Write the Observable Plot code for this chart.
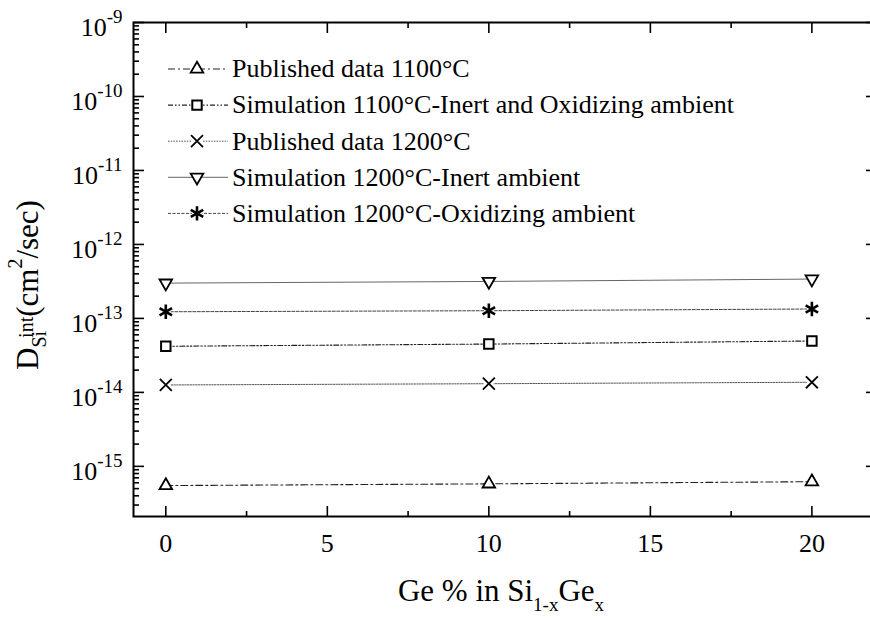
<!DOCTYPE html>
<html><head><meta charset="utf-8">
<script src="https://cdn.jsdelivr.net/npm/d3@7"></script>
<script src="https://cdn.jsdelivr.net/npm/@observablehq/plot@0.6"></script>
<style>html,body{margin:0;padding:0;overflow:hidden;background:#fff;}</style>
</head><body><div id="chart"></div>
<script>
// ---- data ----
const geX = [0, 10, 20];
const published1100 = [5.5e-16, 5.8e-16, 6.2e-16];
const simulation1100 = [4.2e-14, 4.5e-14, 4.95e-14];
const published1200 = [1.26e-14, 1.31e-14, 1.37e-14];
const simulation1200Inert = [3.0e-13, 3.16e-13, 3.4e-13];
const simulation1200Oxid = [1.23e-13, 1.27e-13, 1.34e-13];
const seriesNames = [
  "Published data 1100°C",
  "Simulation 1100°C-Inert and Oxidizing ambient",
  "Published data 1200°C",
  "Simulation 1200°C-Inert ambient",
  "Simulation 1200°C-Oxidizing ambient"
];
const xMajorTicks = [0, 5, 10, 15, 20];
const xMinorTicks = [2.5, 7.5, 12.5, 17.5];
const yExponents = [-15, -14, -13, -12, -11, -10, -9];
const yMinorMultipliers = [2, 3, 4, 5, 6, 7, 8, 9];

const yDomain = [2.1e-16, 1e-9];
const yMajorTicks = yExponents.map(e => Math.pow(10, e));
const yMinorTicks = [];
[-16, ...yExponents].forEach(e => yMinorMultipliers.forEach(m => {
  const v = m * Math.pow(10, e);
  if (v >= yDomain[0] && v <= yDomain[1]) yMinorTicks.push(v);
}));

const invTriangle = {
  draw(context, size) {
    const s = Math.sqrt(size) * 0.6824, t = s / 2, u = s * Math.sqrt(3) / 2;
    context.moveTo(0, s); context.lineTo(u, -t); context.lineTo(-u, -t); context.closePath();
  }
};

const series = [
  {name: seriesNames[0], values: published1100, symbol: d3.symbolTriangle2, r: 6, sw: 1.8, dash: "7,3,2,3", color: "#222", lw: 1.1, mask: false},
  {name: seriesNames[1], values: simulation1100, symbol: d3.symbolSquare2, r: 6, sw: 2, dash: "5,2,1.5,2,1.5,2", color: "#222", lw: 1.1, mask: false},
  {name: seriesNames[2], values: published1200, symbol: d3.symbolTimes, r: 5.5, sw: 1.8, dash: "1.5,1.2", color: "#555", lw: 1, mask: true},
  {name: seriesNames[3], values: simulation1200Inert, symbol: invTriangle, r: 6, sw: 1.8, dash: null, color: "#666", lw: 1, mask: false},
  {name: seriesNames[4], values: simulation1200Oxid, symbol: d3.symbolAsterisk, r: 6.8, sw: 2.6, dash: "3,1.5", color: "#444", lw: 1, mask: true}
];

const lineMarks = [], dotMarks = [];
series.forEach(s => {
  const data = geX.map((x, i) => ({x, y: s.values[i]}));
  lineMarks.push(Plot.line(data, {x: "x", y: "y", stroke: s.color, strokeWidth: s.lw, strokeDasharray: s.dash}));
  if (s.mask) dotMarks.push(Plot.dot(data, {x: "x", y: "y", r: 5, fill: "white", stroke: "none"}));
  dotMarks.push(Plot.dot(data, {x: "x", y: "y", symbol: s.symbol, r: s.r, stroke: "#000", strokeWidth: s.sw, fill: "white"}));
});

const tickMarks = [
  Plot.axisX({anchor: "bottom", ticks: xMajorTicks, tickSize: -10, fill: "none", strokeWidth: 1.6}),
  Plot.axisX({anchor: "bottom", ticks: xMinorTicks, tickSize: -5, fill: "none", strokeWidth: 1.6}),
  Plot.axisX({anchor: "top", ticks: xMajorTicks, tickSize: -10, fill: "none", strokeWidth: 1.6}),
  Plot.axisX({anchor: "top", ticks: xMinorTicks, tickSize: -5, fill: "none", strokeWidth: 1.6}),
  Plot.axisY({anchor: "left", ticks: yMajorTicks, tickSize: -11, fill: "none", strokeWidth: 1.6}),
  Plot.axisY({anchor: "left", ticks: yMinorTicks, tickSize: -6, fill: "none", strokeWidth: 1.6}),
  Plot.axisY({anchor: "right", ticks: yMajorTicks, tickSize: -11, fill: "none", strokeWidth: 1.6}),
  Plot.axisY({anchor: "right", ticks: yMinorTicks, tickSize: -6, fill: "none", strokeWidth: 1.6}),
  Plot.axisX({anchor: "bottom", ticks: xMajorTicks, tickSize: 0, tickPadding: 17, fontSize: 26, label: null, tickFormat: d => String(d)}),
  Plot.axisY({anchor: "left", ticks: yMajorTicks, tickSize: 0, tickPadding: 11, fontSize: 26, label: null, dy: 5,
    tickFormat: d => String(Math.round(Math.log10(d)))})
];

const chart = Plot.plot({
  width: 870, height: 618,
  marginLeft: 133, marginTop: 22, marginBottom: 102, marginRight: -6,
  style: {fontFamily: "'Liberation Serif','Times New Roman',serif", background: "white", color: "black"},
  x: {domain: [-1, 22]},
  y: {type: "log", domain: yDomain},
  marks: [...lineMarks, ...dotMarks, ...tickMarks, Plot.frame({strokeWidth: 2, stroke: "black"})]
});
document.getElementById("chart").appendChild(chart);

const svg = d3.select(chart);
// superscript exponents on y tick labels
svg.selectAll('g[aria-label="y-axis tick label"] text').each(function() {
  const e = this.textContent;
  const t = d3.select(this);
  t.text("10");
  t.append("tspan").attr("dy", -12.5).attr("font-size", 19).text(e);
});

// legend
const legendTop = 69, legendStep = 36.1;
const leg = svg.append("g").attr("font-size", 26).attr("text-anchor", "start")
  .attr("font-family", "'Liberation Serif','Times New Roman',serif");
series.forEach((s, i) => {
  const y = legendTop + i * legendStep;
  leg.append("line").attr("x1", 168).attr("x2", 228).attr("y1", y).attr("y2", y)
    .attr("stroke", s.color).attr("stroke-width", s.lw).attr("stroke-dasharray", s.dash);
  if (s.mask) leg.append("circle").attr("cx", 197).attr("cy", y).attr("r", 5).attr("fill", "white");
  leg.append("path").attr("transform", `translate(197,${y})`)
    .attr("d", d3.symbol(s.symbol, Math.PI * s.r * s.r)())
    .attr("fill", "white").attr("stroke", "#000").attr("stroke-width", s.sw);
  leg.append("text").attr("x", 232).attr("y", y).attr("dy", "0.32em").attr("fill", "black").text(s.name);
});

// axis titles
const xt = svg.append("text").attr("x", 501).attr("y", 601).attr("text-anchor", "middle").attr("font-size", 31).attr("fill", "black");
xt.append("tspan").text("Ge % in Si");
xt.append("tspan").attr("font-size", 19).attr("dy", 10).text("1-x");
xt.append("tspan").attr("dy", -10).text("Ge");
xt.append("tspan").attr("font-size", 19).attr("dy", 10).text("x");

const yt = svg.append("text").attr("transform", "translate(38,370) rotate(-90)").attr("text-anchor", "start")
  .attr("font-size", 31).attr("fill", "black");
yt.append("tspan").text("D");
yt.append("tspan").attr("font-size", 20).attr("dy", 8).text("Si");
yt.append("tspan").attr("font-size", 20).attr("dx", -7).attr("dy", -13).text("int");
yt.append("tspan").attr("dy", 5).text("(cm");
yt.append("tspan").attr("font-size", 20).attr("dy", -16).text("2");
yt.append("tspan").attr("dy", 16).text("/sec)");
</script></body></html>
